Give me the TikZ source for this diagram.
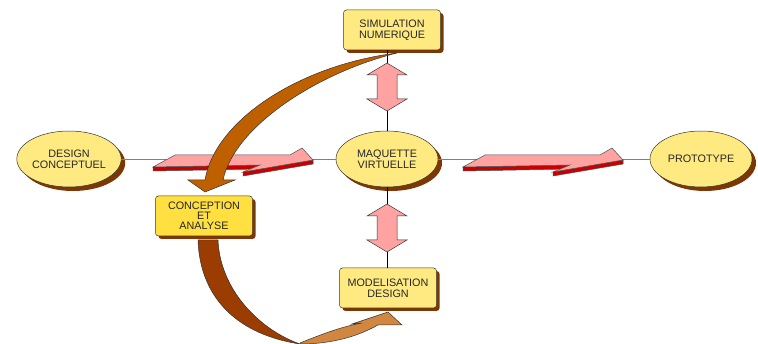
\documentclass[tikz,border=0pt]{standalone}
\usepackage{fontspec}
\setmainfont{Liberation Sans}
\usetikzlibrary{positioning,shapes,shadows,calc}

\definecolor{paleyellow}{RGB}{255,234,130}
\definecolor{deepyellow}{RGB}{255,224,64}
\definecolor{shadowbrown}{RGB}{125,55,5}
\definecolor{rosepink}{RGB}{255,162,162}
\definecolor{darkred}{RGB}{200,0,0}
\definecolor{rust}{RGB}{190,95,0}
\definecolor{darkrust}{RGB}{155,60,0}
\definecolor{lightrust}{RGB}{210,135,65}

% flat pink arrow, given its lower left corner
\newcommand{\flatarrow}[2]{%
  \begin{scope}[shift={(#1,#2)}]
    \filldraw[fill=darkred,draw=black!70] (0,0) -- (107,-2) -- (107,2) -- (0,4) -- cycle;
    \filldraw[fill=darkred,draw=black!70] (90,5) -- (160,-7) -- (160,-3) -- (90,9) -- cycle;
    \filldraw[fill=rosepink,draw=black!70] (0,0) -- (22,-12) -- (137,-12) -- (149,-19)
      -- (160,-7) -- (90,5) -- (107,-2) -- cycle;
  \end{scope}}
% pink double arrow, given its centre
\newcommand{\dblarrow}[2]{%
  \filldraw[fill=rosepink,draw=black!80,shift={(#1,#2)}] (0,-24) -- (20,-12) -- (10,-12)
    -- (10,12) -- (20,12) -- (0,24) -- (-20,12) -- (-10,12) -- (-10,-12) -- (-20,-12) -- cycle;}

\begin{document}
\begin{tikzpicture}[x=1pt,y=-1pt,line width=0.5pt,
    ellipse node/.style={ellipse,draw=black!80,fill=paleyellow,minimum width=102pt,
      minimum height=56pt,inner sep=0pt,align=center,text=black!85,
      font=\fontsize{10.8}{11}\selectfont,
      drop shadow={shadow xshift=4pt,shadow yshift=-4pt,fill=shadowbrown,opacity=1}},
    box node/.style={rectangle,rounded corners=3pt,draw=black!80,fill=paleyellow,
      minimum width=97pt,minimum height=40pt,inner sep=0pt,align=center,text=black!85,
      font=\fontsize{10.8}{11}\selectfont,
      drop shadow={shadow xshift=3pt,shadow yshift=-3pt,fill=shadowbrown,opacity=1}}
  ]
  \useasboundingbox (0,0) rectangle (758,344);

  \node[ellipse node] (design) at (69,159) {DESIGN\\CONCEPTUEL};
  \node[ellipse node] (maquette) at (387,159) {MAQUETTE\\VIRTUELLE};
  \node[ellipse node] (proto) at (701,159) {PROTOTYPE};
  \node[box node] (sim) at (392,30) {SIMULATION\\NUMERIQUE};
  \node[box node] (model) at (388,288) {MODELISATION\\DESIGN};
  \node[box node,fill=deepyellow,font=\fontsize{10.8}{10}\selectfont] (concept) at (204,216)
    {CONCEPTION\\ET\\ANALYSE};

  \draw[black!50] (design) -- (maquette);
  \draw[black!50] (maquette) -- (proto);
  \draw (maquette.north) -- (maquette.north |- sim.south);
  \draw (maquette.south) -- (maquette.south |- model.north);

  \flatarrow{153}{167}
  \flatarrow{463}{167}
  \dblarrow{387}{87}
  \dblarrow{387}{228}

  % curved arrows
  \filldraw[fill=rust,draw=black!80] (397,53) .. controls (300,65) and (215,120) .. (205,180)
    -- (188,180) -- (205,192) -- (235,180) -- (223,180)
    .. controls (235,125) and (320,72) .. (397,53) -- cycle;
  \filldraw[fill=darkrust,draw=black!80] (198,240) .. controls (200,300) and (240,335) .. (300,344)
    .. controls (260,330) and (220,290) .. (218,240) -- cycle;
  \filldraw[fill=lightrust,draw=black!80] (300,343) .. controls (320,335) and (340,327) .. (362,323)
    -- (352,324) -- (388,312) -- (402,325) -- (378,325)
    .. controls (360,335) and (335,344) .. (300,344) -- cycle;
\end{tikzpicture}
\end{document}
